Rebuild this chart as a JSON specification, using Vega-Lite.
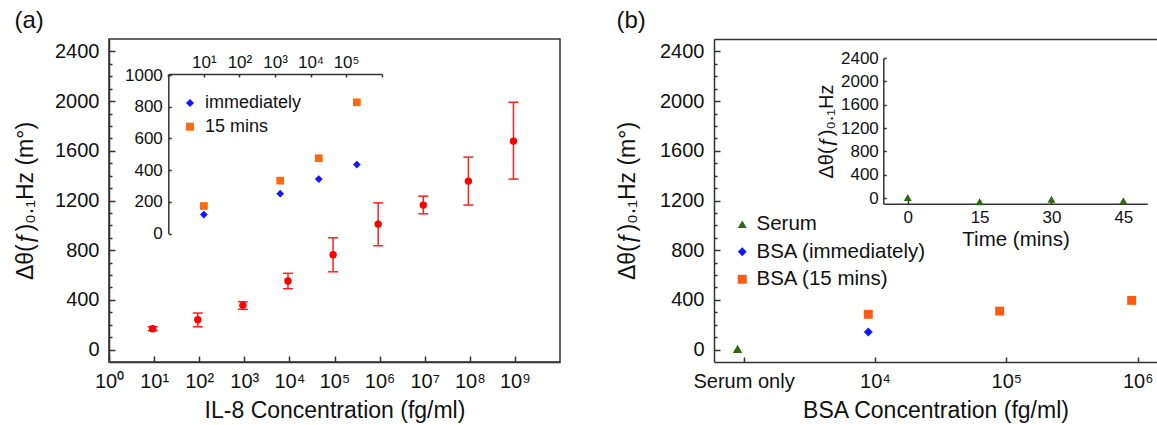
{
  "$schema": "https://vega.github.io/schema/vega-lite/v6.json",
  "padding": {"left": 13, "top": 8, "right": 0, "bottom": 2},
  "config": {
    "font": "Liberation Sans",
    "view": {"stroke": "#333", "strokeWidth": 1.5},
    "axis": {"domainColor": "#333", "domainWidth": 1.5, "tickColor": "#333", "tickWidth": 1.5, "labelColor": "#111", "titleColor": "#111", "grid": false, "titleFontWeight": "normal", "labelFlush": false, "labelOverlap": false, "labelFont": "Liberation Sans", "titleFont": "Liberation Sans"},
    "legend": {"labelColor": "#111", "labelFont": "Liberation Sans", "labelLimit": 0},
    "title": {"fontWeight": "normal", "color": "#111", "font": "Liberation Sans"}
  },
  "datasets": {
    "il8": [
      {"conc": 9.3, "mean": 168, "lo": 152, "hi": 184},
      {"conc": 93, "mean": 240, "lo": 184, "hi": 294},
      {"conc": 930, "mean": 356, "lo": 324, "hi": 385},
      {"conc": 9300, "mean": 552, "lo": 490, "hi": 614},
      {"conc": 93000, "mean": 763, "lo": 626, "hi": 900},
      {"conc": 930000, "mean": 1010, "lo": 836, "hi": 1181},
      {"conc": 9300000, "mean": 1163, "lo": 1093, "hi": 1235},
      {"conc": 93000000, "mean": 1356, "lo": 1163, "hi": 1549},
      {"conc": 930000000, "mean": 1678, "lo": 1372, "hi": 1991}
    ],
    "inset_a": [
      {"conc": 10, "val": 120, "series": "immediately"},
      {"conc": 1400, "val": 252, "series": "immediately"},
      {"conc": 17000, "val": 344, "series": "immediately"},
      {"conc": 200000, "val": 435, "series": "immediately"},
      {"conc": 10, "val": 174, "series": "15 mins"},
      {"conc": 1400, "val": 334, "series": "15 mins"},
      {"conc": 17000, "val": 475, "series": "15 mins"},
      {"conc": 200000, "val": 828, "series": "15 mins"}
    ],
    "bsa": [
      {"conc": 900, "val": 5, "series": "Serum"},
      {"conc": 8900, "val": 141, "series": "BSA (immediately)"},
      {"conc": 8900, "val": 284, "series": "BSA (15 mins)"},
      {"conc": 89000, "val": 310, "series": "BSA (15 mins)"},
      {"conc": 900000, "val": 396, "series": "BSA (15 mins)"}
    ],
    "serum_time": [
      {"time": 0, "val": 10},
      {"time": 15, "val": -60},
      {"time": 30, "val": -20},
      {"time": 45, "val": -45}
    ]
  },
  "resolve": {"scale": {"color": "independent", "shape": "independent"}, "legend": {"color": "independent", "shape": "independent"}},
  "spacing": 55,
  "hconcat": [
    {
      "width": 451,
      "height": 323,
      "title": {"text": "(a)", "anchor": "start", "frame": "bounds", "fontSize": 24, "offset": 6},
      "layer": [
        {
          "data": {"name": "il8"},
          "layer": [
            {
              "mark": {"type": "rule", "color": "#ff2020", "strokeWidth": 1.5},
              "encoding": {
                "x": {"field": "conc", "type": "quantitative", "scale": {"type": "log", "domain": [1, 10000000000], "nice": false}, "axis": {"orient": "bottom", "values": [1, 10, 100, 1000, 10000, 100000, 1000000, 10000000, 100000000, 1000000000], "labelExpr": "'10' + ['⁰','¹','²','³','⁴','⁵','⁶','⁷','⁸','⁹'][round(log(datum.value)/LN10)]", "tickSize": -6, "labelPadding": 15, "labelFontSize": 20, "title": "IL-8 Concentration (fg/ml)", "titleFontSize": 23, "titlePadding": 8}},
                "y": {"field": "lo", "type": "quantitative", "scale": {"domain": [-100, 2500], "nice": false, "zero": false}, "axis": {"orient": "left", "values": [0, 100, 200, 300, 400, 500, 600, 700, 800, 900, 1000, 1100, 1200, 1300, 1400, 1500, 1600, 1700, 1800, 1900, 2000, 2100, 2200, 2300, 2400], "labelExpr": "datum.value % 400 === 0 ? '' + datum.value : ''", "tickSize": {"condition": {"test": "datum.value % 400 === 0", "value": -6}, "value": -3}, "labelPadding": 16, "labelFontSize": 20, "title": "Δθ(ƒ)₀.₁Hz (m°)", "titleFontSize": 23, "titlePadding": 17}},
                "y2": {"field": "hi"}
              }
            },
            {
              "mark": {"type": "tick", "orient": "horizontal", "size": 10, "thickness": 1.5, "color": "#ff2020", "opacity": 1},
              "encoding": {
                "x": {"field": "conc", "type": "quantitative", "scale": {"type": "log", "domain": [1, 10000000000], "nice": false}, "axis": {"orient": "bottom", "values": [1, 10, 100, 1000, 10000, 100000, 1000000, 10000000, 100000000, 1000000000], "labelExpr": "'10' + ['⁰','¹','²','³','⁴','⁵','⁶','⁷','⁸','⁹'][round(log(datum.value)/LN10)]", "tickSize": -6, "labelPadding": 15, "labelFontSize": 20, "title": "IL-8 Concentration (fg/ml)", "titleFontSize": 23, "titlePadding": 8}},
                "y": {"field": "lo", "type": "quantitative", "scale": {"domain": [-100, 2500], "nice": false, "zero": false}, "axis": {"orient": "left", "values": [0, 100, 200, 300, 400, 500, 600, 700, 800, 900, 1000, 1100, 1200, 1300, 1400, 1500, 1600, 1700, 1800, 1900, 2000, 2100, 2200, 2300, 2400], "labelExpr": "datum.value % 400 === 0 ? '' + datum.value : ''", "tickSize": {"condition": {"test": "datum.value % 400 === 0", "value": -6}, "value": -3}, "labelPadding": 16, "labelFontSize": 20, "title": "Δθ(ƒ)₀.₁Hz (m°)", "titleFontSize": 23, "titlePadding": 17}}
              }
            },
            {
              "mark": {"type": "tick", "orient": "horizontal", "size": 10, "thickness": 1.5, "color": "#ff2020", "opacity": 1},
              "encoding": {
                "x": {"field": "conc", "type": "quantitative", "scale": {"type": "log", "domain": [1, 10000000000], "nice": false}, "axis": {"orient": "bottom", "values": [1, 10, 100, 1000, 10000, 100000, 1000000, 10000000, 100000000, 1000000000], "labelExpr": "'10' + ['⁰','¹','²','³','⁴','⁵','⁶','⁷','⁸','⁹'][round(log(datum.value)/LN10)]", "tickSize": -6, "labelPadding": 15, "labelFontSize": 20, "title": "IL-8 Concentration (fg/ml)", "titleFontSize": 23, "titlePadding": 8}},
                "y": {"field": "hi", "type": "quantitative", "scale": {"domain": [-100, 2500], "nice": false, "zero": false}, "axis": {"orient": "left", "values": [0, 100, 200, 300, 400, 500, 600, 700, 800, 900, 1000, 1100, 1200, 1300, 1400, 1500, 1600, 1700, 1800, 1900, 2000, 2100, 2200, 2300, 2400], "labelExpr": "datum.value % 400 === 0 ? '' + datum.value : ''", "tickSize": {"condition": {"test": "datum.value % 400 === 0", "value": -6}, "value": -3}, "labelPadding": 16, "labelFontSize": 20, "title": "Δθ(ƒ)₀.₁Hz (m°)", "titleFontSize": 23, "titlePadding": 17}}
              }
            },
            {
              "mark": {"type": "point", "filled": true, "shape": "circle", "size": 55, "color": "#ff0000", "opacity": 1},
              "encoding": {
                "x": {"field": "conc", "type": "quantitative", "scale": {"type": "log", "domain": [1, 10000000000], "nice": false}, "axis": {"orient": "bottom", "values": [1, 10, 100, 1000, 10000, 100000, 1000000, 10000000, 100000000, 1000000000], "labelExpr": "'10' + ['⁰','¹','²','³','⁴','⁵','⁶','⁷','⁸','⁹'][round(log(datum.value)/LN10)]", "tickSize": -6, "labelPadding": 15, "labelFontSize": 20, "title": "IL-8 Concentration (fg/ml)", "titleFontSize": 23, "titlePadding": 8}},
                "y": {"field": "mean", "type": "quantitative", "scale": {"domain": [-100, 2500], "nice": false, "zero": false}, "axis": {"orient": "left", "values": [0, 100, 200, 300, 400, 500, 600, 700, 800, 900, 1000, 1100, 1200, 1300, 1400, 1500, 1600, 1700, 1800, 1900, 2000, 2100, 2200, 2300, 2400], "labelExpr": "datum.value % 400 === 0 ? '' + datum.value : ''", "tickSize": {"condition": {"test": "datum.value % 400 === 0", "value": -6}, "value": -3}, "labelPadding": 16, "labelFontSize": 20, "title": "Δθ(ƒ)₀.₁Hz (m°)", "titleFontSize": 23, "titlePadding": 17}}
              }
            }
          ]
        },
        {
          "data": {"name": "inset_a"},
          "mark": {"type": "point", "filled": true, "opacity": 1, "size": 60},
          "encoding": {
            "x": {"field": "conc", "type": "quantitative", "scale": {"type": "log", "domain": [1, 1000000], "range": [59.3, 272.7], "nice": false}, "axis": {"orient": "top", "offset": -35, "values": [1, 10, 100, 1000, 10000, 100000, 1000000], "labelExpr": "datum.value > 5 && datum.value < 500000 ? '10' + ['⁰','¹','²','³','⁴','⁵','⁶','⁷','⁸','⁹'][round(log(datum.value)/LN10)] : ''", "tickSize": -3, "labelPadding": 6, "labelFontSize": 17, "title": null}},
            "y": {"field": "val", "type": "quantitative", "scale": {"domain": [0, 1000], "range": [194.6, 36], "nice": false, "zero": false}, "axis": {"orient": "left", "offset": -59.3, "values": [0, 200, 400, 600, 800, 1000], "format": "d", "tickSize": -3, "labelPadding": 9, "labelFontSize": 17, "title": null}},
            "shape": {"field": "series", "type": "nominal", "scale": {"domain": ["immediately", "15 mins"], "range": ["diamond", "square"]}, "legend": {"title": null, "orient": "none", "legendX": 72, "legendY": 55, "labelFontSize": 18, "symbolSize": 64, "rowPadding": 5.7, "labelOffset": 6, "padding": 0}},
            "color": {"field": "series", "type": "nominal", "scale": {"domain": ["immediately", "15 mins"], "range": ["#1414ff", "#f96b12"]}, "legend": {"title": null, "orient": "none", "legendX": 72, "legendY": 55, "labelFontSize": 18, "symbolSize": 64, "rowPadding": 5.7, "labelOffset": 6, "padding": 0}}
          }
        }
      ],
      "resolve": {"scale": {"x": "independent", "y": "independent"}, "axis": {"x": "independent", "y": "independent"}}
    },
    {
      "width": 443,
      "height": 323,
      "view": {"stroke": null},
      "title": {"text": "(b)", "anchor": "start", "frame": "bounds", "fontSize": 24, "offset": 6},
      "layer": [
        {
          "data": {"name": "bsa"},
          "layer": [
            {
              "transform": [{"filter": "datum.series !== 'Serum'"}],
              "mark": {"type": "point", "filled": true, "opacity": 1, "size": 80},
              "encoding": {
                "x": {"field": "conc", "type": "quantitative", "scale": {"type": "log", "domain": [595.7, 1403000], "nice": false}, "axis": {"orient": "bottom", "values": [1000, 10000, 100000, 1000000], "labelExpr": "datum.value < 5000 ? 'Serum only' : '10' + ['⁰','¹','²','³','⁴','⁵','⁶','⁷','⁸','⁹'][round(log(datum.value)/LN10)]", "tickSize": -5, "labelPadding": 14, "labelFontSize": 20, "title": "BSA Concentration (fg/ml)", "titleFontSize": 23, "titlePadding": 8}},
                "y": {"field": "val", "type": "quantitative", "scale": {"domain": [-100, 2500], "nice": false, "zero": false}, "axis": {"orient": "left", "values": [0, 100, 200, 300, 400, 500, 600, 700, 800, 900, 1000, 1100, 1200, 1300, 1400, 1500, 1600, 1700, 1800, 1900, 2000, 2100, 2200, 2300, 2400], "labelExpr": "datum.value % 400 === 0 ? '' + datum.value : ''", "tickSize": {"condition": {"test": "datum.value % 400 === 0", "value": -6}, "value": -3}, "labelPadding": 16, "labelFontSize": 20, "title": "Δθ(ƒ)₀.₁Hz (m°)", "titleFontSize": 23, "titlePadding": 20}},
                "shape": {"field": "series", "type": "nominal", "scale": {"domain": ["Serum", "BSA (immediately)", "BSA (15 mins)"], "range": ["triangle-up", "diamond", "square"]}, "legend": {"title": null, "orient": "none", "legendX": 18, "legendY": 175, "labelFontSize": 20.5, "symbolSize": 80, "rowPadding": 6.5, "labelOffset": 4, "padding": 0}},
                "color": {"field": "series", "type": "nominal", "scale": {"domain": ["Serum", "BSA (immediately)", "BSA (15 mins)"], "range": ["#2d6a0f", "#1414ff", "#ff5a14"]}, "legend": {"title": null, "orient": "none", "legendX": 18, "legendY": 175, "labelFontSize": 20.5, "symbolSize": 80, "rowPadding": 6.5, "labelOffset": 4, "padding": 0}}
              }
            },
            {
              "transform": [{"filter": "datum.series === 'Serum'"}],
              "mark": {"type": "point", "filled": true, "opacity": 1, "size": 90},
              "encoding": {
                "x": {"field": "conc", "type": "quantitative", "scale": {"type": "log", "domain": [595.7, 1403000], "nice": false}, "axis": {"orient": "top", "labels": false, "ticks": false, "title": null, "domain": true}},
                "y": {"field": "val", "type": "quantitative", "scale": {"domain": [-100, 2500], "nice": false, "zero": false}, "axis": {"orient": "left", "values": [0, 100, 200, 300, 400, 500, 600, 700, 800, 900, 1000, 1100, 1200, 1300, 1400, 1500, 1600, 1700, 1800, 1900, 2000, 2100, 2200, 2300, 2400], "labelExpr": "datum.value % 400 === 0 ? '' + datum.value : ''", "tickSize": {"condition": {"test": "datum.value % 400 === 0", "value": -6}, "value": -3}, "labelPadding": 16, "labelFontSize": 20, "title": "Δθ(ƒ)₀.₁Hz (m°)", "titleFontSize": 23, "titlePadding": 20}},
                "shape": {"field": "series", "type": "nominal", "scale": {"domain": ["Serum", "BSA (immediately)", "BSA (15 mins)"], "range": ["triangle-up", "diamond", "square"]}, "legend": {"title": null, "orient": "none", "legendX": 18, "legendY": 175, "labelFontSize": 20.5, "symbolSize": 80, "rowPadding": 6.5, "labelOffset": 4, "padding": 0}},
                "color": {"field": "series", "type": "nominal", "scale": {"domain": ["Serum", "BSA (immediately)", "BSA (15 mins)"], "range": ["#2d6a0f", "#1414ff", "#ff5a14"]}, "legend": {"title": null, "orient": "none", "legendX": 18, "legendY": 175, "labelFontSize": 20.5, "symbolSize": 80, "rowPadding": 6.5, "labelOffset": 4, "padding": 0}}
              }
            }
          ],
          "resolve": {"axis": {"x": "independent"}}
        },
        {
          "data": {"name": "serum_time"},
          "mark": {"type": "point", "filled": true, "opacity": 1, "size": 64, "shape": "triangle-up", "color": "#2d6a0f"},
          "encoding": {
            "x": {"field": "time", "type": "quantitative", "scale": {"domain": [-5, 50], "range": [169.8, 433.3], "nice": false, "zero": false}, "axis": {"orient": "bottom", "offset": -158.3, "values": [0, 15, 30, 45], "tickSize": -4, "labelPadding": 10, "labelFontSize": 17, "title": "Time (mins)", "titleFontSize": 20.5, "titlePadding": 4}},
            "y": {"field": "val", "type": "quantitative", "scale": {"domain": [-100, 2400], "range": [165, 19], "nice": false, "zero": false}, "axis": {"orient": "left", "offset": -169.3, "values": [0, 400, 800, 1200, 1600, 2000, 2400], "format": "d", "tickSize": -3, "labelPadding": 8, "labelFontSize": 17, "title": "Δθ(ƒ)₀.₁Hz", "titleFontSize": 20, "titlePadding": 4}}
          }
        }
      ],
      "resolve": {"scale": {"x": "independent", "y": "independent"}, "axis": {"x": "independent", "y": "independent"}}
    }
  ]
}
